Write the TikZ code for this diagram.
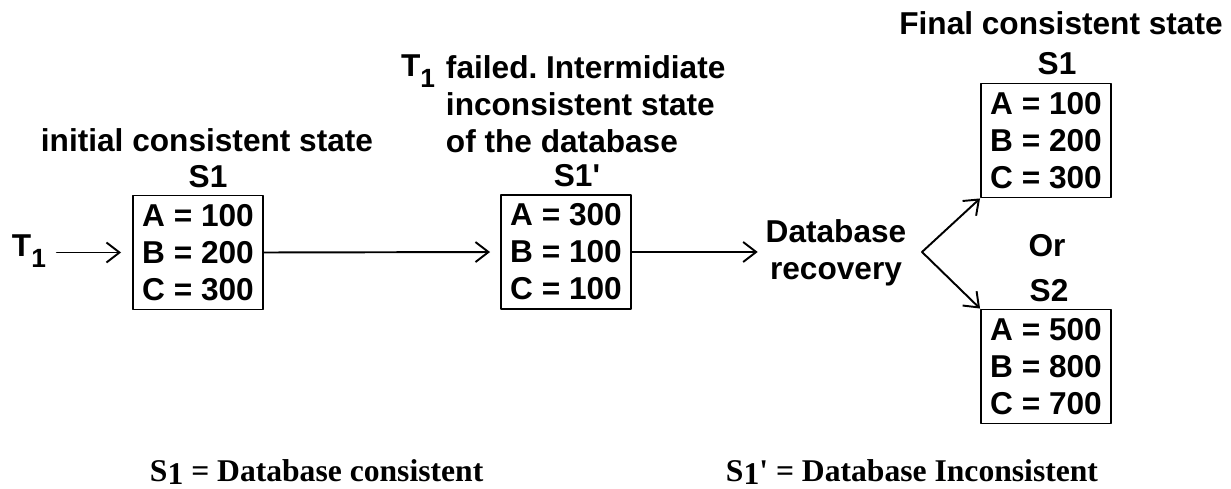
\documentclass[tikz,border=0pt]{standalone}
\usepackage{fontspec}
\setmainfont{Liberation Sans}
\newfontfamily\timesbold{Liberation Serif}
\usetikzlibrary{arrows.meta}

\newcommand{\Tone}{T\raisebox{-0.22cm}{\fontsize{15pt}{15pt}\selectfont 1}}

\begin{document}
\begin{tikzpicture}[
    x=0.02cm,y=-0.02cm,
    line cap=round,line join=round,line width=1.1pt,
    txt/.style={font=\fontsize{18pt}{21pt}\selectfont\bfseries,inner sep=0pt},
    state/.style={txt,draw,minimum width=2.6cm,minimum height=2.28cm,align=center},
    legend/.style={font=\timesbold\bfseries\fontsize{18pt}{22pt}\selectfont,inner sep=0pt,anchor=base west},
    flow/.style={-{Straight Barb[length=0.26cm,width=0.4cm]}}
]
    \useasboundingbox (0,0) rectangle (1231,489);

    % initial consistent state
    \node[txt,anchor=base] (init) at (207,152) {initial consistent state};
    \node[txt,anchor=base] (s1name) at (208,188) {S1};
    \node[state] (s1) at (198,252.5) {A = 100\\B = 200\\C = 300};
    \node[txt,anchor=base west] (t1) at (11,257) {\Tone};

    % failed, inconsistent state
    \node[txt,anchor=base east] (tfail) at (436,77) {\Tone};
    \node[txt,anchor=north west,align=left] (fail) at (445,55)
        {failed.\ Intermidiate\\inconsistent state\\of the database};
    \node[txt,anchor=base] (s1pname) at (577,187) {S1\textquotesingle};
    \node[state] (s1p) at (566,252) {A = 300\\B = 100\\C = 100};

    % recovery
    \node[txt,align=center] (rec) at (836,253) {Database\\recovery};
    \coordinate (fork) at (922,252);

    % final states
    \node[txt,anchor=base] (final) at (1061,35) {Final consistent state};
    \node[txt,anchor=base] (f1name) at (1057,75) {S1};
    \node[state] (f1) at (1046,140.5) {A = 100\\B = 200\\C = 300};
    \node[txt,anchor=base] (or) at (1047,257) {Or};
    \node[txt,anchor=base] (f2name) at (1049,302) {S2};
    \node[state] (f2) at (1046,366.5) {A = 500\\B = 800\\C = 700};

    \draw[flow,shorten <=0.2cm,shorten >=0.22cm] (t1.east |- s1.west) -- (s1.west);
    \draw[flow,shorten >=0.2cm] (s1.east) -- (s1p.west);
    \draw[flow,shorten >=0.14cm] (s1p.east) -- (rec.west |- s1p.east);
    \draw[flow] (fork) -- (f1.south west);
    \draw[flow] (fork) -- (f2.north west);

    % legend
    \node[legend] (leg1) at (149,481) {S\raisebox{-0.07cm}{1} = Database consistent};
    \node[legend] (leg2) at (725,481) {S\raisebox{-0.07cm}{1}\textquotesingle{} = Database Inconsistent};
\end{tikzpicture}
\end{document}
